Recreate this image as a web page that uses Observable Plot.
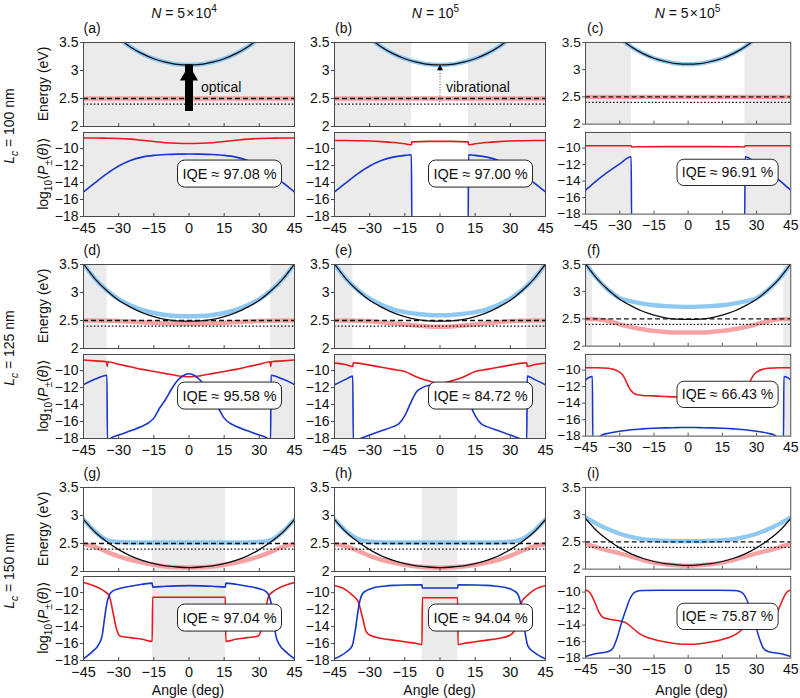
<!DOCTYPE html>
<html>
<head>
<meta charset="utf-8">
<script src="https://cdn.jsdelivr.net/npm/d3@7"></script>
<script src="https://cdn.jsdelivr.net/npm/@observablehq/plot@0.6"></script>
<style>
  body { margin: 0; background: #fff; }
  #fig { position: relative; width: 800px; height: 698px; overflow: hidden;
         font-family: "Liberation Sans", Arial, Helvetica, sans-serif; color: #111; }
  .lbl { position: absolute; white-space: nowrap; font-size: 14px; line-height: 1; }
  .ctr { transform: translate(-50%, -50%); }
  .rot { transform: translate(-50%, -50%) rotate(-90deg); }
  .panel { position: absolute; }
  sub, sup { font-size: 72%; line-height: 0; }
</style>
</head>
<body>
<div id="fig"></div>
<script>
// ---------- labels ----------
const columnTitles = ["<i>N</i> = 5\u200a×\u200a10<sup>4</sup>", "<i>N</i> = 10<sup>5</sup>", "<i>N</i> = 5\u200a×\u200a10<sup>5</sup>"];
const rowTitles = ["<i>L</i><sub><i>c</i></sub> = 100 nm", "<i>L</i><sub><i>c</i></sub> = 125 nm", "<i>L</i><sub><i>c</i></sub> = 150 nm"];
const panelTags = ["(a)", "(b)", "(c)", "(d)", "(e)", "(f)", "(g)", "(h)", "(i)"];
const iqeValues = ["97.08", "97.00", "96.91", "95.58", "84.72", "66.43", "97.04", "94.04", "75.87"];

// ---------- axes ----------
const angleTicks = [-45, -30, -15, 0, 15, 30, 45];
const innerAngleTicks = [-30, -15, 0, 15, 30];
const energyTicks = [2, 2.5, 3, 3.5];
const probTicks = [-10, -12, -14, -16, -18];
const excitonEnergy = 2.5;
const vibrationalEnergy = 2.4;

// ---------- energy curves (eV) on a 5° grid ----------
const angleGrid = [-45, -40, -35, -30, -25, -20, -15, -10, -5, 0, 5, 10, 15, 20, 25, 30, 35, 40, 45];
const photon100 = [4.38, 4.05, 3.78, 3.58, 3.42, 3.30, 3.21, 3.15, 3.11, 3.10, 3.11, 3.15, 3.21, 3.30, 3.42, 3.58, 3.78, 4.05, 4.38];
const photon125 = [3.51, 3.24, 3.03, 2.86, 2.74, 2.64, 2.57, 2.52, 2.495, 2.49, 2.495, 2.52, 2.57, 2.64, 2.74, 2.86, 3.03, 3.24, 3.51];
const photon150 = [2.93, 2.70, 2.53, 2.39, 2.28, 2.20, 2.14, 2.10, 2.08, 2.07, 2.08, 2.10, 2.14, 2.20, 2.28, 2.39, 2.53, 2.70, 2.93];

const upper100 = [4.38, 4.05, 3.78, 3.58, 3.42, 3.30, 3.21, 3.15, 3.11, 3.10, 3.11, 3.15, 3.21, 3.30, 3.42, 3.58, 3.78, 4.05, 4.38];
const lower100 = [2.50, 2.50, 2.50, 2.50, 2.50, 2.50, 2.50, 2.50, 2.50, 2.50, 2.50, 2.50, 2.50, 2.50, 2.50, 2.50, 2.50, 2.50, 2.50];
const upperD = [3.51, 3.24, 3.035, 2.88, 2.77, 2.69, 2.635, 2.60, 2.58, 2.575, 2.58, 2.60, 2.635, 2.69, 2.77, 2.88, 3.035, 3.24, 3.51];
const lowerD = [2.50, 2.50, 2.495, 2.49, 2.48, 2.47, 2.46, 2.45, 2.445, 2.44, 2.445, 2.45, 2.46, 2.47, 2.48, 2.49, 2.495, 2.50, 2.50];
const upperE = [3.51, 3.24, 3.04, 2.89, 2.78, 2.70, 2.65, 2.62, 2.60, 2.595, 2.60, 2.62, 2.65, 2.70, 2.78, 2.89, 3.04, 3.24, 3.51];
const lowerE = [2.50, 2.50, 2.495, 2.485, 2.47, 2.45, 2.43, 2.41, 2.395, 2.39, 2.395, 2.41, 2.43, 2.45, 2.47, 2.485, 2.495, 2.50, 2.50];
const upperF = [3.51, 3.24, 3.03, 2.88, 2.82, 2.78, 2.75, 2.735, 2.725, 2.72, 2.725, 2.735, 2.75, 2.78, 2.82, 2.88, 3.03, 3.24, 3.51];
const lowerF = [2.50, 2.49, 2.46, 2.40, 2.35, 2.31, 2.28, 2.26, 2.25, 2.25, 2.25, 2.26, 2.28, 2.31, 2.35, 2.40, 2.46, 2.49, 2.50];
const upperG = [2.93, 2.71, 2.56, 2.525, 2.52, 2.52, 2.52, 2.52, 2.52, 2.52, 2.52, 2.52, 2.52, 2.52, 2.52, 2.525, 2.56, 2.71, 2.93];
const lowerG = [2.49, 2.44, 2.35, 2.27, 2.21, 2.16, 2.12, 2.09, 2.075, 2.07, 2.075, 2.09, 2.12, 2.16, 2.21, 2.27, 2.35, 2.44, 2.49];
const upperH = [2.93, 2.72, 2.58, 2.53, 2.52, 2.52, 2.52, 2.52, 2.52, 2.52, 2.52, 2.52, 2.52, 2.52, 2.52, 2.53, 2.58, 2.72, 2.93];
const lowerH = [2.49, 2.45, 2.37, 2.28, 2.21, 2.16, 2.12, 2.09, 2.075, 2.065, 2.075, 2.09, 2.12, 2.16, 2.21, 2.28, 2.37, 2.45, 2.49];
const upperI = [2.95, 2.83, 2.73, 2.65, 2.59, 2.55, 2.53, 2.52, 2.515, 2.515, 2.515, 2.52, 2.53, 2.55, 2.59, 2.65, 2.73, 2.83, 2.95];
const lowerI = [2.47, 2.40, 2.34, 2.29, 2.23, 2.17, 2.12, 2.09, 2.07, 2.06, 2.07, 2.09, 2.12, 2.17, 2.23, 2.29, 2.34, 2.40, 2.47];

// ---------- log10 <P±(θ)> : [angle, value] ----------
const redA = [[-45,-8.75],[-40,-8.75],[-35,-8.77],[-30,-8.8],[-25,-8.88],[-20,-9.02],[-15,-9.17],[-10,-9.3],[-5,-9.37],[0,-9.4],[5,-9.37],[10,-9.3],[15,-9.17],[20,-9.02],[25,-8.88],[30,-8.8],[35,-8.77],[40,-8.75],[45,-8.75]];
const blueA = [[-45,-15.1],[-40,-14.0],[-35,-12.95],[-30,-12.05],[-25,-11.4],[-20,-11.0],[-15,-10.8],[-10,-10.7],[-5,-10.65],[0,-10.64],[5,-10.65],[10,-10.7],[15,-10.8],[20,-11.0],[25,-11.4],[30,-12.05],[35,-12.95],[40,-14.0],[45,-15.1]];
const redB = [[-45,-9.05],[-40,-9.05],[-35,-9.07],[-30,-9.1],[-25,-9.17],[-20,-9.27],[-15,-9.42],[-12.2,-9.55],[-12,-9.2],[-5,-9.15],[0,-9.15],[5,-9.15],[12,-9.2],[12.2,-9.55],[15,-9.42],[20,-9.27],[25,-9.17],[30,-9.1],[35,-9.07],[40,-9.05],[45,-9.05]];
const blueB = [[-45,-15.1],[-40,-14.0],[-35,-12.95],[-30,-12.05],[-25,-11.4],[-20,-11.0],[-15,-10.8],[-12.2,-10.72],[-12,-19],[12,-19],[12.2,-10.72],[15,-10.8],[20,-11.0],[25,-11.4],[30,-12.05],[35,-12.95],[40,-14.0],[45,-15.1]];
const redC = [[-45,-9.72],[-35,-9.72],[-25,-9.72],[-24.8,-9.86],[-20,-9.83],[-10,-9.82],[0,-9.82],[10,-9.82],[20,-9.83],[24.8,-9.86],[25,-9.72],[35,-9.72],[45,-9.72]];
const blueC = [[-45,-15.1],[-40,-13.9],[-35,-12.85],[-30,-11.9],[-25,-11.05],[-24.8,-19],[24.8,-19],[25,-11.05],[30,-11.9],[35,-12.85],[40,-13.9],[45,-15.1]];
const redD = [[-45,-8.75],[-40,-8.85],[-35.1,-8.95],[-34.9,-9.5],[-34.6,-8.95],[-30,-9.25],[-25,-9.55],[-20,-9.85],[-15,-10.1],[-10,-10.35],[-5,-10.6],[0,-10.72],[5,-10.6],[10,-10.35],[15,-10.1],[20,-9.85],[25,-9.55],[30,-9.25],[34.6,-8.95],[34.9,-9.5],[35.1,-8.95],[40,-8.85],[45,-8.75]];
const blueD = [[-45,-11.65],[-40,-11.0],[-35,-10.55],[-34.8,-18.3],[-33,-17.9],[-30,-17.6],[-25,-17.1],[-20,-16.55],[-17.5,-16.2],[-15,-15.6],[-12.5,-14.4],[-10,-13.4],[-7.5,-12.2],[-5,-11.2],[-2.5,-10.6],[0,-10.37],[2.5,-10.6],[5,-11.2],[7.5,-12.2],[10,-13.4],[12.5,-14.4],[15,-15.6],[17.5,-16.2],[20,-16.55],[25,-17.1],[30,-17.6],[33,-17.9],[34.8,-18.3],[35,-10.55],[40,-11.0],[45,-11.65]];
const redE = [[-45,-9.12],[-40,-9.3],[-37.2,-9.5],[-37,-9.08],[-35,-9.12],[-30,-9.35],[-25,-9.6],[-20,-9.85],[-15,-10.1],[-10,-10.75],[-5,-11.2],[0,-11.55],[5,-11.2],[10,-10.75],[15,-10.1],[20,-9.85],[25,-9.6],[30,-9.35],[35,-9.12],[37,-9.08],[37.2,-9.5],[40,-9.3],[45,-9.12]];
const blueE = [[-45,-11.67],[-40,-11.0],[-37.2,-10.65],[-37,-18.3],[-35,-18.1],[-30,-17.6],[-25,-17.1],[-20,-16.6],[-17.5,-16.25],[-15,-15.3],[-12.5,-13.8],[-10,-12.5],[-7.5,-12.0],[-5,-11.75],[0,-11.6],[5,-11.75],[7.5,-12.0],[10,-12.5],[12.5,-13.8],[15,-15.3],[17.5,-16.25],[20,-16.6],[25,-17.1],[30,-17.6],[35,-18.1],[37,-18.3],[37.2,-10.65],[40,-11.0],[45,-11.67]];
const redF = [[-45,-9.72],[-40,-9.72],[-35,-9.78],[-30,-10.25],[-28,-10.9],[-26,-12.1],[-24,-12.8],[-22,-13.0],[-20,-13.07],[-15,-13.12],[-10,-13.2],[-5,-13.27],[0,-13.3],[5,-13.27],[10,-13.2],[15,-13.12],[20,-13.07],[22,-13.0],[24,-12.8],[26,-12.1],[28,-10.9],[30,-10.25],[35,-9.78],[40,-9.72],[45,-9.72]];
const blueF = [[-45,-11.2],[-43.5,-10.9],[-42,-10.78],[-41.8,-18.8],[-38,-17.9],[-35,-17.65],[-30,-17.4],[-25,-17.22],[-20,-17.12],[-15,-17.05],[-10,-17.0],[-5,-16.97],[0,-16.96],[5,-16.97],[10,-17.0],[15,-17.05],[20,-17.12],[25,-17.22],[30,-17.4],[35,-17.65],[38,-17.9],[41.8,-18.8],[42,-10.78],[43.5,-10.9],[45,-11.2]];
const redG = [[-45,-8.8],[-40,-9.25],[-36,-9.85],[-34,-10.4],[-32.5,-12.2],[-31,-14.2],[-29.5,-15.1],[-25,-15.3],[-20,-15.5],[-15.7,-15.75],[-15.5,-10.55],[0,-10.55],[15.5,-10.55],[15.7,-15.75],[20,-15.5],[25,-15.3],[29.5,-15.1],[31,-14.2],[32.5,-12.2],[34,-10.4],[36,-9.85],[40,-9.25],[45,-8.8]];
const blueG = [[-45,-17.8],[-41,-16.9],[-38.5,-16.1],[-37,-15.0],[-36,-13.0],[-35,-11.2],[-34,-10.3],[-33,-9.9],[-30,-9.55],[-25,-9.25],[-20,-9.02],[-15.7,-8.88],[-15.5,-9.35],[-10,-9.25],[-5,-9.2],[0,-9.18],[5,-9.2],[10,-9.25],[15.5,-9.35],[15.7,-8.88],[20,-9.02],[25,-9.25],[30,-9.55],[33,-9.9],[34,-10.3],[35,-11.2],[36,-13.0],[37,-15.0],[38.5,-16.1],[41,-16.9],[45,-17.8]];
const redH = [[-45,-9.17],[-40,-9.7],[-37,-10.4],[-35,-11.0],[-33,-13.0],[-31.5,-14.6],[-30,-15.0],[-25,-15.4],[-20,-15.6],[-15,-15.8],[-10,-16.0],[-7.7,-16.15],[-7.5,-10.6],[0,-10.6],[7.5,-10.6],[7.7,-16.15],[10,-16.0],[15,-15.8],[20,-15.6],[25,-15.4],[30,-15.0],[31.5,-14.6],[33,-13.0],[35,-11.0],[37,-10.4],[40,-9.7],[45,-9.17]];
const blueH = [[-45,-17.8],[-40,-17.0],[-37.5,-16.3],[-36,-14.2],[-35,-12.2],[-34,-10.8],[-33,-10.1],[-31,-9.7],[-28,-9.4],[-24,-9.25],[-20,-9.15],[-15,-9.1],[-7.7,-9.08],[-7.5,-9.45],[0,-9.45],[7.5,-9.45],[7.7,-9.08],[15,-9.1],[20,-9.15],[24,-9.25],[28,-9.4],[31,-9.7],[33,-10.1],[34,-10.8],[35,-12.2],[36,-14.2],[37.5,-16.3],[40,-17.0],[45,-17.8]];
const redI = [[-45,-9.75],[-43,-10.1],[-41,-11.2],[-39,-12.5],[-37.5,-13.05],[-35,-13.25],[-30,-13.5],[-27,-13.75],[-25,-14.2],[-22,-14.9],[-20,-15.25],[-15,-15.75],[-10,-16.05],[-5,-16.25],[0,-16.33],[5,-16.25],[10,-16.05],[15,-15.75],[20,-15.25],[22,-14.9],[25,-14.2],[27,-13.75],[30,-13.5],[35,-13.25],[37.5,-13.05],[39,-12.5],[41,-11.2],[43,-10.1],[45,-9.75]];
const blueI = [[-45,-17.8],[-42,-17.55],[-38,-17.35],[-35,-17.2],[-33,-16.8],[-31,-15.4],[-29,-13.5],[-27.5,-12.3],[-26,-11.1],[-24.5,-10.3],[-23,-9.95],[-20,-9.8],[-10,-9.78],[0,-9.77],[10,-9.78],[20,-9.8],[23,-9.95],[24.5,-10.3],[26,-11.1],[27.5,-12.3],[29,-13.5],[31,-15.4],[33,-16.8],[35,-17.2],[38,-17.35],[42,-17.55],[45,-17.8]];

// ---------- grey (shaded) angular ranges ----------
const shadeA = [[-45, 45]];
const shadeB = [[-45, -12.1], [12.1, 45]];
const shadeC = [[-45, -24.9], [24.9, 45]];
const shadeD = [[-45, -34.9], [34.9, 45]];
const shadeE = [[-45, -37.1], [37.1, 45]];
const shadeF = [[-45, -41.9], [41.9, 45]];
const shadeG = [[-15.6, 15.6]];
const shadeH = [[-7.6, 7.6]];
const shadeI = [];

// ---------- assemble panels ----------
const photonRows = [photon100, photon125, photon150];
const panels = [
  {shade: shadeA, upper: upper100, lower: lower100, red: redA, blue: blueA, arrow: "optical"},
  {shade: shadeB, upper: upper100, lower: lower100, red: redB, blue: blueB, arrow: "vibrational"},
  {shade: shadeC, upper: upper100, lower: lower100, red: redC, blue: blueC},
  {shade: shadeD, upper: upperD, lower: lowerD, red: redD, blue: blueD},
  {shade: shadeE, upper: upperE, lower: lowerE, red: redE, blue: blueE},
  {shade: shadeF, upper: upperF, lower: lowerF, red: redF, blue: blueF},
  {shade: shadeG, upper: upperG, lower: lowerG, red: redG, blue: blueG},
  {shade: shadeH, upper: upperH, lower: lowerH, red: redH, blue: blueH},
  {shade: shadeI, upper: upperI, lower: lowerI, red: redI, blue: blueI}
];

// ---------- layout & style ----------
const FONT = '"Liberation Sans", Arial, Helvetica, sans-serif';
const colLeft = [82.5, 334, 586];
const energyTop = [42, 264, 487];
const probTop = [132, 354, 576];
const plotW = 211, plotH = 84;
const SHADE = "#ebebeb", FRAME = "#4a4a4a";
const RED = "#e8191c", BLUE = "#1636cc", UPBAND = "#8fc8f1", LPBAND = "#f5a2a2";
const fmt = d => (d < 0 ? "\u2212" + Math.abs(d) : String(d));
const fig = document.getElementById("fig");

function place(node, left, top) {
  const div = document.createElement("div");
  div.className = "panel";
  div.style.left = left + "px";
  div.style.top = top + "px";
  div.appendChild(node);
  fig.appendChild(div);
}
function label(html, x, y, cls) {
  const d = document.createElement("div");
  d.className = "lbl " + cls;
  d.style.left = x + "px";
  d.style.top = y + "px";
  d.innerHTML = html;
  fig.appendChild(d);
  return d;
}

// rounded label box anchored in data coordinates
function iqeBox(text, ax, ay) {
  return (index, scales) => {
    const g = d3.create("svg:g");
    const cx = scales.x(ax), cy = scales.y(ay), w = 104, h = 27;
    g.append("rect").attr("x", cx - w / 2).attr("y", cy - h / 2).attr("width", w).attr("height", h)
      .attr("rx", 7).attr("fill", "white").attr("stroke", "#222").attr("stroke-width", 1);
    g.append("text").attr("x", cx).attr("y", cy).attr("dy", "0.36em").attr("text-anchor", "middle")
      .attr("font-size", 14.5).attr("fill", "#111").text(text);
    return g.node();
  };
}

const mL = 34, mR = 10, mT = 2;
const baseStyle = {fontFamily: FONT, fontSize: "14px", background: "transparent", overflow: "visible", color: "#111"};

panels.forEach((p, i) => {
  const c = i % 3, r = Math.floor(i / 3);
  const shadeMark = Plot.rect(p.shade, {x1: d => d[0], x2: d => d[1], fill: SHADE});

  // energy dispersion
  const eMarks = [
    shadeMark,
    Plot.line(angleGrid, {x: d => d, y: p.upper, stroke: UPBAND, strokeWidth: 4.5, curve: "monotone-x", clip: true}),
    Plot.line(angleGrid, {x: d => d, y: p.lower, stroke: LPBAND, strokeWidth: 4.5, curve: "monotone-x", clip: true}),
    Plot.line(angleGrid, {x: d => d, y: photonRows[r], stroke: "#0d0d14", strokeWidth: 1.3, curve: "monotone-x", clip: true}),
    Plot.ruleY([excitonEnergy], {stroke: "#111", strokeWidth: 1.3, strokeDasharray: "5,3"}),
    Plot.ruleY([vibrationalEnergy], {stroke: "#111", strokeWidth: 1.2, strokeDasharray: "1.6,2"})
  ];
  const eMin = d3.min(photonRows[r]);
  if (p.arrow === "optical") {
    eMarks.push(
      Plot.ruleX([0], {x: d => d, y1: excitonEnergy, y2: eMin, stroke: "#000", strokeWidth: 8, insetTop: 13}),
      Plot.dot([0], {x: d => d, y: eMin, symbol: "triangle", r: 6.7, fill: "#000", stroke: null, dy: 10.4}),
      Plot.text([p.arrow], {x: 0, y: 2.7, dx: 12, textAnchor: "start", fontSize: 14, fill: "#111"})
    );
  } else if (p.arrow === "vibrational") {
    eMarks.push(
      Plot.ruleX([0], {x: d => d, y1: excitonEnergy, y2: eMin, stroke: "#666", strokeWidth: 1, strokeDasharray: "1.2,1.6", insetTop: 4}),
      Plot.dot([0], {x: d => d, y: eMin, symbol: "triangle", r: 2.3, fill: "#000", stroke: null, dy: 3.5}),
      Plot.text([p.arrow], {x: 0, y: 2.7, dx: 6, textAnchor: "start", fontSize: 14, fill: "#111"})
    );
  }
  eMarks.push(
    Plot.ruleX(innerAngleTicks, {x: d => d, stroke: FRAME, insetTop: plotH - 3}),
    Plot.frame({stroke: FRAME, strokeWidth: 1}),
    Plot.axisY(energyTicks, {tickSize: 3, tickPadding: 2, tickFormat: fmt, label: null, stroke: FRAME, fontSize: 14})
  );
  const energy = Plot.plot({
    width: plotW + mL + mR, height: plotH + mT + 2,
    marginLeft: mL, marginRight: mR, marginTop: mT, marginBottom: 2,
    style: baseStyle,
    x: {domain: [-45, 45], axis: null},
    y: {domain: [2, 3.5], axis: null},
    marks: eMarks
  });
  place(energy, colLeft[c] - mL, energyTop[r] - mT);

  // emission probabilities
  const prob = Plot.plot({
    width: plotW + mL + mR, height: plotH + mT + 24,
    marginLeft: mL, marginRight: mR, marginTop: mT, marginBottom: 24,
    style: baseStyle,
    x: {domain: [-45, 45], axis: null},
    y: {domain: [-18, -8.1], axis: null},
    marks: [
      shadeMark,
      Plot.line(p.red, {x: d => d[0], y: d => d[1], stroke: RED, strokeWidth: 1.6, curve: "monotone-x", clip: true}),
      Plot.line(p.blue, {x: d => d[0], y: d => d[1], stroke: BLUE, strokeWidth: 1.6, curve: "monotone-x", clip: true}),
      iqeBox(`IQE \u2248 ${iqeValues[i]} %`, 17.5, -13.0),
      Plot.ruleX(innerAngleTicks, {x: d => d, stroke: FRAME, insetTop: plotH - 3}),
      Plot.frame({stroke: FRAME, strokeWidth: 1}),
      Plot.axisY(probTicks, {tickSize: 3, tickPadding: 2, tickFormat: fmt, label: null, stroke: FRAME, fontSize: 14}),
      Plot.axisX(angleTicks, {tickSize: 0, tickPadding: 6, tickFormat: fmt, label: null, fontSize: 14.5})
    ]
  });
  place(prob, colLeft[c] - mL, probTop[r] - mT);

  label(panelTags[i], colLeft[c] + 1, energyTop[r] - 14, "tag").style.transform = "translateY(-50%)";
});

// text around the grid
columnTitles.forEach((t, c) => label(t, colLeft[c] + plotW / 2 - 4, 13, "ctr"));
rowTitles.forEach((t, r) => label(t, 9, (energyTop[r] + probTop[r] + plotH) / 2 - 3, "rot"));
energyTop.forEach(t => label("Energy (eV)", 43, t + plotH / 2, "rot"));
probTop.forEach(t => label("log<sub>10</sub>\u27e8<i>P</i><sub>\u00b1</sub>(<i>\u03b8</i>)\u27e9", 43, t + plotH / 2, "rot"));
colLeft.forEach(x => label("Angle (deg)", x + plotW / 2, 690, "ctr"));
</script>
</body>
</html>
